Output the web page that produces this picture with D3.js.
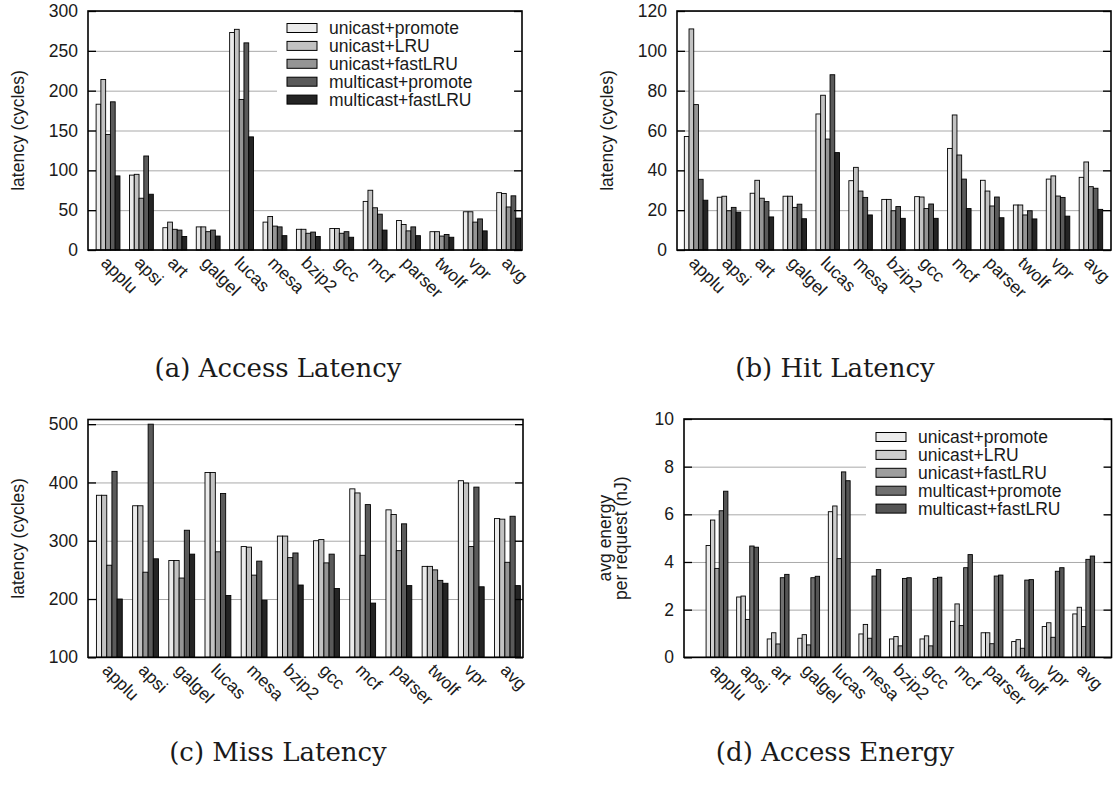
<!DOCTYPE html>
<html>
<head>
<meta charset="utf-8">
<script src="https://cdn.jsdelivr.net/npm/d3@7"></script>
<style>
  body { margin: 0; background: #fff; }
  svg { display: block; }
  text { font-family: "Liberation Sans", Arial, sans-serif; fill: #1a1a1a; }
  .caption { font-family: "DejaVu Serif", serif; }
</style>
</head>
<body>
<svg id="fig" width="1114" height="795"></svg>
<script>
// benchmarks on the x axis (miss latency has no "art")
const benchmarks = ['applu', 'apsi', 'art', 'galgel', 'lucas', 'mesa', 'bzip2', 'gcc', 'mcf', 'parser', 'twolf', 'vpr', 'avg'];
const missBenchmarks = ['applu', 'apsi', 'galgel', 'lucas', 'mesa', 'bzip2', 'gcc', 'mcf', 'parser', 'twolf', 'vpr', 'avg'];
const schemes = ['unicast+promote', 'unicast+LRU', 'unicast+fastLRU', 'multicast+promote', 'multicast+fastLRU'];

// one row per scheme, same order as schemes
const accessLatency = [
  [183, 94, 28, 29, 273, 35, 26, 27, 61, 37, 23, 48, 72],
  [214, 95, 35, 29, 277, 42, 26, 27, 75, 32, 23, 48, 71],
  [145, 65, 26, 23, 189, 30, 21, 21, 53, 24, 17.5, 35, 54],
  [186, 118, 25, 25, 260, 29, 22.5, 23, 45, 29, 19.5, 39, 68],
  [93, 70, 17, 17.5, 142, 18, 17, 16, 25, 18, 16, 24, 40]
];
const hitLatency = [
  [57, 26.5, 28.5, 27, 68.3, 34.8, 25.4, 26.8, 51, 35, 22.6, 35.6, 36.5],
  [111, 27, 35, 27, 77.7, 41.5, 25.4, 26.6, 67.8, 29.6, 22.6, 37.2, 44.2],
  [73, 19.7, 26, 21.4, 55.7, 29.6, 19.7, 20.8, 47.7, 22.1, 17.6, 27.1, 31.8],
  [35.5, 21.4, 24.3, 23, 88, 26.4, 21.8, 23.1, 35.6, 26.6, 19.7, 26.4, 31],
  [25, 19, 16.6, 15.7, 48.9, 17.6, 15.9, 15.9, 20.8, 16.2, 15.6, 17, 20.4]
];
const missLatency = [
  [378, 360, 266, 417, 290, 308, 300, 389, 353, 256, 403, 338],
  [378, 360, 266, 417, 289, 308, 302, 382, 345, 256, 399, 337],
  [258, 246, 236, 281, 241, 271, 262, 275, 283, 250, 290, 263],
  [419, 500, 318, 381, 265, 279, 277, 362, 329, 232, 392, 342],
  [200, 269, 277, 206, 198, 224, 218, 193, 223, 227, 221, 223]
];
const accessEnergy = [
  [4.69, 2.53, 0.77, 0.80, 6.11, 0.98, 0.77, 0.77, 1.51, 1.03, 0.66, 1.29, 1.82],
  [5.76, 2.57, 1.03, 0.95, 6.35, 1.38, 0.87, 0.90, 2.24, 1.03, 0.74, 1.45, 2.10],
  [3.73, 1.59, 0.56, 0.52, 4.14, 0.80, 0.48, 0.48, 1.33, 0.57, 0.38, 0.84, 1.29],
  [6.15, 4.67, 3.34, 3.34, 7.78, 3.41, 3.31, 3.31, 3.76, 3.41, 3.24, 3.61, 4.11],
  [6.97, 4.62, 3.48, 3.40, 7.41, 3.68, 3.34, 3.36, 4.31, 3.45, 3.26, 3.76, 4.25]
];

const accessTicks = [0, 50, 100, 150, 200, 250, 300];
const hitTicks = [0, 20, 40, 60, 80, 100, 120];
const missTicks = [100, 200, 300, 400, 500];
const energyTicks = [0, 2, 4, 6, 8, 10];

const latencyGrays = ['#ebebeb', '#c2c2c2', '#959595', '#5a5a5a', '#242424'];
const energyGrays = ['#ececec', '#cecece', '#9e9e9e', '#707070', '#555555'];

const FONT = 17.5;
const svg = d3.select('#fig');

function drawPanel(p) {
  const g = svg.append('g');
  const W = p.right - p.left;

  const x = d3.scaleLinear().domain(p.xDomain).range([p.left, p.right]);
  const y = d3.scaleLinear().domain(p.yDomain).range([p.bottom, p.top]);
  const bw = (x(1) - x(0)) / 7;   // 5 bars + gap of 2 bars

  // grey gridlines
  g.append('g')
    .attr('transform', `translate(${p.left},0)`)
    .call(d3.axisLeft(y).tickValues(p.ticks).tickSize(-W).tickFormat(''))
    .call(a => a.select('.domain').remove())
    .selectAll('line')
      .attr('stroke', '#a9a9a9');

  // legend background hides the gridlines
  if (p.legend) {
    g.append('rect')
      .attr('x', p.legend.x).attr('y', p.legend.y)
      .attr('width', p.legend.w).attr('height', p.legend.h)
      .attr('fill', '#fff');
  }

  // bars
  p.data.forEach((row, j) => {
    g.append('g').selectAll('rect')
      .data(row)
      .join('rect')
        .attr('x', (d, i) => x(i) + (j - 2.5) * bw)
        .attr('y', d => y(d))
        .attr('width', bw)
        .attr('height', d => y(p.yDomain[0]) - y(d))
        .attr('fill', p.colors[j])
        .attr('stroke', '#000')
        .attr('stroke-width', 0.9);
  });

  // inward ticks on both sides + labels on the left
  g.append('g')
    .attr('transform', `translate(${p.left},0)`)
    .call(d3.axisLeft(y).tickValues(p.ticks).tickSizeInner(-8).tickSizeOuter(0).tickPadding(10))
    .call(a => a.select('.domain').remove())
    .call(a => a.selectAll('text').attr('font-size', FONT).attr('font-family', '"Liberation Sans", Arial, sans-serif').attr('fill', '#1a1a1a'))
    .call(a => a.selectAll('line').attr('stroke', '#000').attr('stroke-width', 1.3));

  g.append('g')
    .attr('transform', `translate(${p.right},0)`)
    .call(d3.axisRight(y).tickValues(p.ticks).tickSizeInner(-8).tickSizeOuter(0).tickFormat(''))
    .call(a => a.select('.domain').remove())
    .call(a => a.selectAll('line').attr('stroke', '#000').attr('stroke-width', 1.3));

  // frame
  g.append('rect')
    .attr('x', p.left).attr('y', p.top)
    .attr('width', W).attr('height', p.bottom - p.top)
    .attr('fill', 'none')
    .attr('stroke', '#000')
    .attr('stroke-width', 1.6);

  // rotated benchmark names
  g.append('g').selectAll('text')
    .data(p.cats)
    .join('text')
      .attr('transform', (d, i) => `translate(${x(i) - 8},${p.bottom + 14}) rotate(45)`)
      .attr('font-size', FONT)
      .text(d => d);

  // y label (one or two lines)
  const cy = (p.top + p.bottom) / 2;
  p.ylabel.forEach((line, k) => {
    g.append('text')
      .attr('transform', `translate(${p.ylabelX[k]},${cy}) rotate(-90)`)
      .attr('text-anchor', 'middle')
      .attr('font-size', FONT)
      .text(line);
  });

  if (p.legend) {
    const lg = g.append('g').selectAll('g')
      .data(schemes)
      .join('g')
        .attr('transform', (d, i) => `translate(${p.legend.x + 10},${p.legend.y + 13 + i * 17.9})`);
    lg.append('rect')
      .attr('x', 0).attr('y', -4.5)
      .attr('width', 30).attr('height', 9)
      .attr('fill', (d, i) => p.colors[i])
      .attr('stroke', '#000')
      .attr('stroke-width', 1);
    lg.append('text')
      .attr('x', 42).attr('dy', '0.36em')
      .attr('font-size', FONT)
      .text(d => d);
  }

  svg.append('text')
    .attr('class', 'caption')
    .attr('x', p.captionX).attr('y', p.captionY)
    .attr('text-anchor', 'middle')
    .attr('font-size', 26)
    .text(p.caption);
}

drawPanel({
  left: 88, right: 522, top: 11, bottom: 250,
  xDomain: [-0.6, 12.4], yDomain: [0, 300], ticks: accessTicks,
  cats: benchmarks, data: accessLatency, colors: latencyGrays,
  ylabel: ['latency (cycles)'], ylabelX: [24],
  legend: { x: 277, y: 15, w: 238, h: 95 },
  caption: '(a) Access Latency', captionX: 278, captionY: 377
});

drawPanel({
  left: 677, right: 1111, top: 11, bottom: 250,
  xDomain: [-0.58, 12.61], yDomain: [0, 120], ticks: hitTicks,
  cats: benchmarks, data: hitLatency, colors: latencyGrays,
  ylabel: ['latency (cycles)'], ylabelX: [613],
  caption: '(b) Hit Latency', captionX: 835, captionY: 377
});

drawPanel({
  left: 88, right: 523, top: 419.5, bottom: 657.3,
  xDomain: [-0.59, 11.43], yDomain: [100, 508], ticks: missTicks,
  cats: missBenchmarks, data: missLatency, colors: latencyGrays,
  ylabel: ['latency (cycles)'], ylabelX: [24],
  caption: '(c) Miss Latency', captionX: 278, captionY: 761
});

drawPanel({
  left: 684, right: 1111.5, top: 419, bottom: 657.3,
  xDomain: [-1.08, 12.91], yDomain: [0, 10], ticks: energyTicks,
  cats: benchmarks, data: accessEnergy, colors: energyGrays,
  ylabel: ['avg energy', 'per request (nJ)'], ylabelX: [611, 627],
  legend: { x: 866, y: 424, w: 238, h: 96 },
  caption: '(d) Access Energy', captionX: 835, captionY: 761
});
</script>
</body>
</html>
